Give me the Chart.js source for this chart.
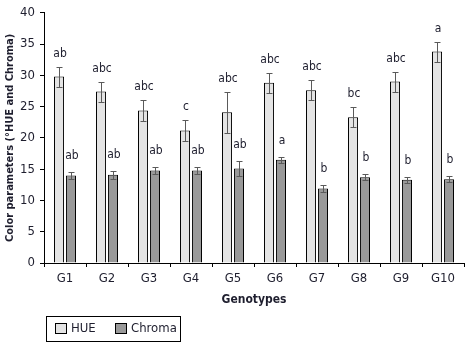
<!DOCTYPE html>
<html>
<head>
<meta charset="utf-8">
<script src="https://cdn.jsdelivr.net/npm/chart.js@4/dist/chart.umd.min.js"></script>
<style>
html,body{margin:0;padding:0;background:#fff;}
#wrap{width:473px;height:347px;position:relative;}
</style>
</head>
<body>
<div id="wrap"><canvas id="c" width="473" height="347"></canvas></div>
<script>
// ---- data ----
const categories = ['G1','G2','G3','G4','G5','G6','G7','G8','G9','G10'];
const hueValues    = [29.8, 27.4, 24.4, 21.2, 24.1, 28.8, 27.6, 23.3, 29.0, 33.8];
const hueErrors    = [1.6, 1.6, 1.7, 1.7, 3.3, 1.6, 1.6, 1.6, 1.6, 1.6];
const hueLetters   = ['ab','abc','abc','c','abc','abc','abc','bc','abc','a'];
const chromaValues = [14.0, 14.1, 14.8, 14.8, 15.1, 16.5, 11.9, 13.7, 13.3, 13.4];
const chromaErrors = [0.5, 0.6, 0.6, 0.6, 1.2, 0.5, 0.5, 0.5, 0.5, 0.5];
const chromaLetters= ['ab','ab','ab','ab','ab','a','b','b','b','b'];
const yTicks = [0,5,10,15,20,25,30,35,40];

const FONT = '"Liberation Sans Narrow","DejaVu Sans Condensed","Roboto Condensed","Liberation Sans",Arial,sans-serif';
const TXT = '#1e1e2e';

const errorPlugin = {
  id: 'errorLetters',
  afterDatasetsDraw(chart) {
    const ctx = chart.ctx;
    const ys = chart.scales.y;
    chart.data.datasets.forEach((ds, i) => {
      const meta = chart.getDatasetMeta(i);
      meta.data.forEach((el, j) => {
        const v = ds.data[j], e = ds.errors[j];
        const x = Math.round(el.x) + 0.5;
        const yt = Math.round(ys.getPixelForValue(v + e)) + 0.5;
        const yb = Math.round(ys.getPixelForValue(v - e)) + 0.5;
        ctx.save();
        ctx.strokeStyle = '#5a5a5a';
        ctx.lineWidth = 1;
        ctx.beginPath();
        ctx.moveTo(x, yt); ctx.lineTo(x, yb);
        ctx.moveTo(x - 3, yt); ctx.lineTo(x + 3, yt);
        ctx.moveTo(x - 3, yb); ctx.lineTo(x + 3, yb);
        ctx.stroke();
        ctx.fillStyle = TXT;
        ctx.font = '12px ' + FONT;
        ctx.textAlign = 'center';
        ctx.textBaseline = 'bottom';
        ctx.fillText(ds.letters[j], el.x + 1, yt - (i === 0 ? 8 : 11));
        ctx.restore();
      });
    });
  }
};

const legendPlugin = {
  id: 'boxLegend',
  afterDraw(chart) {
    const ctx = chart.ctx;
    ctx.save();
    ctx.strokeStyle = '#000';
    ctx.lineWidth = 1;
    ctx.strokeRect(46.5, 316.5, 134, 25);
    const xs = [55, 115];
    ctx.font = '13px ' + FONT;
    ctx.textBaseline = 'middle';
    ctx.textAlign = 'left';
    chart.data.datasets.forEach((ds, i) => {
      ctx.fillStyle = ds.backgroundColor;
      ctx.fillRect(xs[i], 323, 12, 11);
      ctx.strokeStyle = '#000';
      ctx.strokeRect(xs[i] + 0.5, 323.5, 11, 10);
      ctx.fillStyle = TXT;
      ctx.fillText(ds.label, xs[i] + 16, 329);
    });
    ctx.restore();
  }
};

new Chart(document.getElementById('c'), {
  type: 'bar',
  data: {
    labels: categories,
    datasets: [
      { label: 'HUE', data: hueValues, errors: hueErrors, letters: hueLetters,
        backgroundColor: '#e4e4e4', borderColor: '#000', borderWidth: 1,
        categoryPercentage: 0.57, barPercentage: 0.84 },
      { label: 'Chroma', data: chromaValues, errors: chromaErrors, letters: chromaLetters,
        backgroundColor: '#999999', borderColor: '#000', borderWidth: 1,
        categoryPercentage: 0.57, barPercentage: 0.84 }
    ]
  },
  options: {
    responsive: false,
    animation: false,
    events: [],
    layout: { padding: { left: 0, right: 9, top: 11, bottom: 40 } },
    plugins: { legend: { display: false }, tooltip: { enabled: false } },
    scales: {
      x: {
        afterFit(s) { s.height = 44; },
        grid: { display: true, drawOnChartArea: false, drawTicks: true, tickLength: 4, color: '#000', offset: true },
        border: { display: true, color: '#000', width: 1 },
        ticks: { color: TXT, font: { family: FONT, size: 13 }, padding: 4, maxRotation: 0 },
        title: { display: true, text: 'Genotypes', color: TXT, font: { family: FONT, size: 12, weight: 'bold' }, padding: { top: 2, bottom: 0 } }
      },
      y: {
        min: 0, max: 40,
        afterFit(s) { s.width = 44; },
        afterBuildTicks(s) { s.ticks = yTicks.map(v => ({ value: v })); },
        grid: { display: true, drawOnChartArea: false, drawTicks: true, tickLength: 4, color: '#000' },
        border: { display: true, color: '#000', width: 1 },
        ticks: { color: TXT, font: { family: FONT, size: 13 }, padding: 5 },
        title: { display: true, text: 'Color parameters (°HUE and Chroma)', color: TXT, font: { family: FONT, size: 11, weight: 'bold' }, padding: { top: 4, bottom: 0 } }
      }
    }
  },
  plugins: [errorPlugin, legendPlugin]
});
</script>
</body>
</html>
